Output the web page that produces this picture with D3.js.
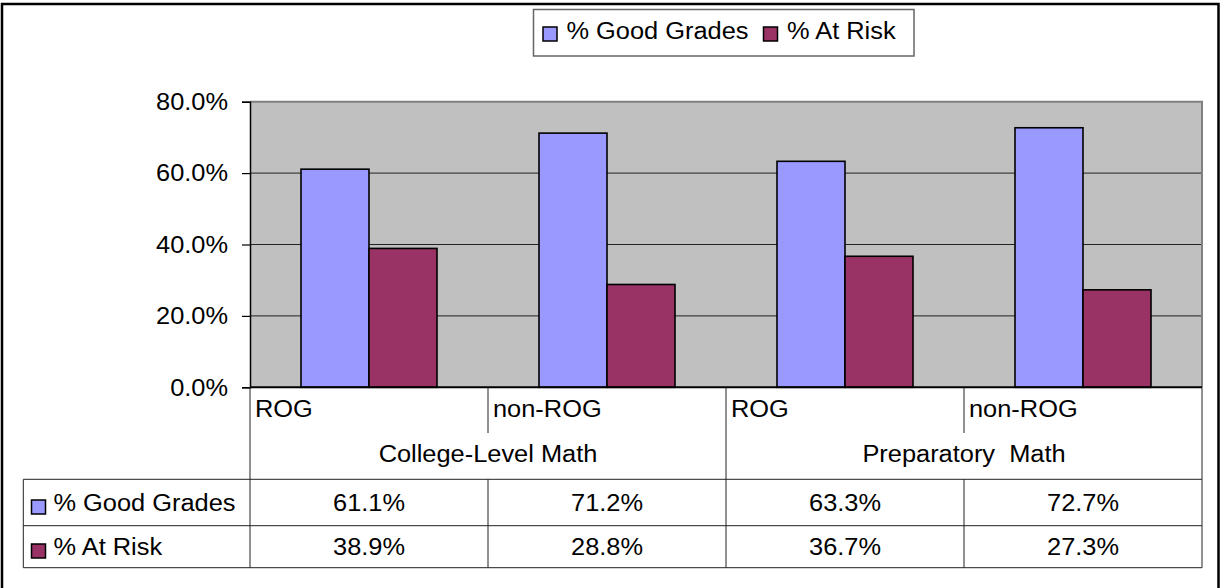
<!DOCTYPE html>
<html>
<head>
<meta charset="utf-8">
<script src="https://cdn.jsdelivr.net/npm/d3@7"></script>
<style>
  html, body { margin: 0; padding: 0; background: #fff; }
  svg { display: block; font-family: "Liberation Sans", Arial, sans-serif; }
  text { white-space: pre; }
</style>
</head>
<body>
<svg id="chart" width="1220" height="588"></svg>
<script>
// data
const categories = ["ROG", "non-ROG", "ROG", "non-ROG"];
const groups = ["College-Level Math", "Preparatory  Math"];
const seriesNames = ["% Good Grades", "% At Risk"];
const goodGrades = [0.611, 0.712, 0.633, 0.727];
const atRisk = [0.389, 0.288, 0.367, 0.273];
const yTicks = [0, 0.2, 0.4, 0.6, 0.8];

const colors = ["#9999ff", "#993366"];
const seriesValues = [goodGrades, atRisk];

const width = 1220, height = 588;
const plot = { left: 250, right: 1202, top: 101.7, bottom: 387.3 };
const fontSize = 23.3, stretch = 1.09;   // the source text is a bit wider than Arial
const fmt = d3.format(".1%");

const svg = d3.select("#chart");
svg.append("rect").attr("width", width).attr("height", height).attr("fill", "#fff");

// text helper, scaled a little horizontally
function label(parent, x, y, str, anchor) {
  return parent.append("text")
    .attr("transform", `translate(${x},${y}) scale(${stretch},1)`)
    .attr("text-anchor", anchor || "start")
    .attr("font-size", fontSize)
    .attr("fill", "#000")
    .text(str);
}

const x = d3.scaleBand().domain(d3.range(categories.length)).range([plot.left, plot.right]);
const xs = d3.scaleBand().domain(d3.range(seriesNames.length))
  .range([0, x.bandwidth()]).paddingInner(0).paddingOuter(0.75);
const y = d3.scaleLinear().domain([0, 0.8]).range([plot.bottom, plot.top]);

// plot background
svg.append("rect")
  .attr("x", plot.left).attr("y", plot.top)
  .attr("width", plot.right - plot.left).attr("height", plot.bottom - plot.top)
  .attr("fill", "#c0c0c0");

// gridlines
svg.append("g").selectAll("line")
  .data(yTicks.filter(d => d > 0 && d < 0.8))
  .join("line")
  .attr("x1", plot.left).attr("x2", plot.right)
  .attr("y1", d => y(d)).attr("y2", d => y(d))
  .attr("stroke", "#222").attr("stroke-width", 1);

// plot border top/right
svg.append("path")
  .attr("d", `M${plot.left},${plot.top}H${plot.right}V${plot.bottom}`)
  .attr("fill", "none").attr("stroke", "#808080").attr("stroke-width", 2);

// bars
const cat = svg.append("g").selectAll("g")
  .data(d3.range(categories.length))
  .join("g")
  .attr("transform", i => `translate(${x(i)},0)`);

cat.selectAll("rect")
  .data(i => seriesValues.map((vals, s) => ({ s, v: vals[i] })))
  .join("rect")
  .attr("x", d => xs(d.s))
  .attr("y", d => y(d.v))
  .attr("width", xs.bandwidth())
  .attr("height", d => y(0) - y(d.v))
  .attr("fill", d => colors[d.s])
  .attr("stroke", "#000").attr("stroke-width", 1.6);

// y axis
const yAxis = svg.append("g")
  .attr("transform", `translate(${plot.left},0)`)
  .call(d3.axisLeft(y).tickValues(yTicks).tickSize(8).tickFormat(() => ""));
yAxis.select(".domain").attr("stroke", "#000").attr("stroke-width", 1.5);
yAxis.selectAll(".tick line").attr("stroke", "#000").attr("stroke-width", 1.2);
yTicks.forEach(t => label(svg, 228, y(t) + 8.3, fmt(t), "end"));

// x axis line
svg.append("line")
  .attr("x1", plot.left).attr("x2", plot.right)
  .attr("y1", plot.bottom).attr("y2", plot.bottom)
  .attr("stroke", "#000").attr("stroke-width", 2);

// category separators and labels
const tableTop = 479.3, rowMid = 525.7, tableBottom = 567.7, tableLeft = 23.3;
const lineColor = "#222";
d3.range(categories.length + 1).forEach(i => {
  const xx = i < categories.length ? x(i) : plot.right;
  const full = i % 2 === 0;
  svg.append("line")
    .attr("x1", xx).attr("x2", xx)
    .attr("y1", plot.bottom).attr("y2", full ? tableBottom : 433)
    .attr("stroke", lineColor).attr("stroke-width", 1);
});
categories.forEach((c, i) => label(svg, x(i) + 5, 417, c, "start"));
groups.forEach((g, i) => {
  const cx = (x(i * 2) + (i * 2 + 2 < categories.length ? x(i * 2 + 2) : plot.right)) / 2;
  label(svg, cx, 462, g, "middle");
});

// data table
[tableTop, rowMid, tableBottom].forEach(yy => {
  svg.append("line")
    .attr("x1", tableLeft).attr("x2", plot.right)
    .attr("y1", yy).attr("y2", yy)
    .attr("stroke", lineColor).attr("stroke-width", 1);
});
svg.append("line")
  .attr("x1", tableLeft).attr("x2", tableLeft)
  .attr("y1", tableTop).attr("y2", tableBottom)
  .attr("stroke", lineColor).attr("stroke-width", 1);
d3.range(1, categories.length, 2).forEach(i => {
  svg.append("line")
    .attr("x1", x(i)).attr("x2", x(i))
    .attr("y1", tableTop).attr("y2", tableBottom)
    .attr("stroke", lineColor).attr("stroke-width", 1);
});

const rowBase = [511, 555];
seriesNames.forEach((name, s) => {
  svg.append("rect")
    .attr("x", 31.5).attr("y", rowBase[s] - 11)
    .attr("width", 14).attr("height", 14)
    .attr("fill", colors[s]).attr("stroke", "#000").attr("stroke-width", 1.5);
  label(svg, 53.5, rowBase[s], name, "start");
  seriesValues[s].forEach((v, i) => label(svg, x(i) + x.bandwidth() / 2, rowBase[s], fmt(v), "middle"));
});

// legend
const legend = svg.append("g");
legend.append("rect")
  .attr("x", 533.5).attr("y", 9.5).attr("width", 380.5).attr("height", 46.5)
  .attr("fill", "#fff").attr("stroke", "#666").attr("stroke-width", 1.5);
const legendX = [543, 763.5];
seriesNames.forEach((name, s) => {
  legend.append("rect")
    .attr("x", legendX[s]).attr("y", 27)
    .attr("width", 14).attr("height", 14)
    .attr("fill", colors[s]).attr("stroke", "#000").attr("stroke-width", 1.5);
  label(legend, legendX[s] + 23.5, 39, name, "start");
});

// outer border
svg.append("rect")
  .attr("x", 2).attr("y", 4).attr("width", 1216.5).attr("height", 600)
  .attr("fill", "none").attr("stroke", "#000").attr("stroke-width", 2.5);
</script>
</body>
</html>
